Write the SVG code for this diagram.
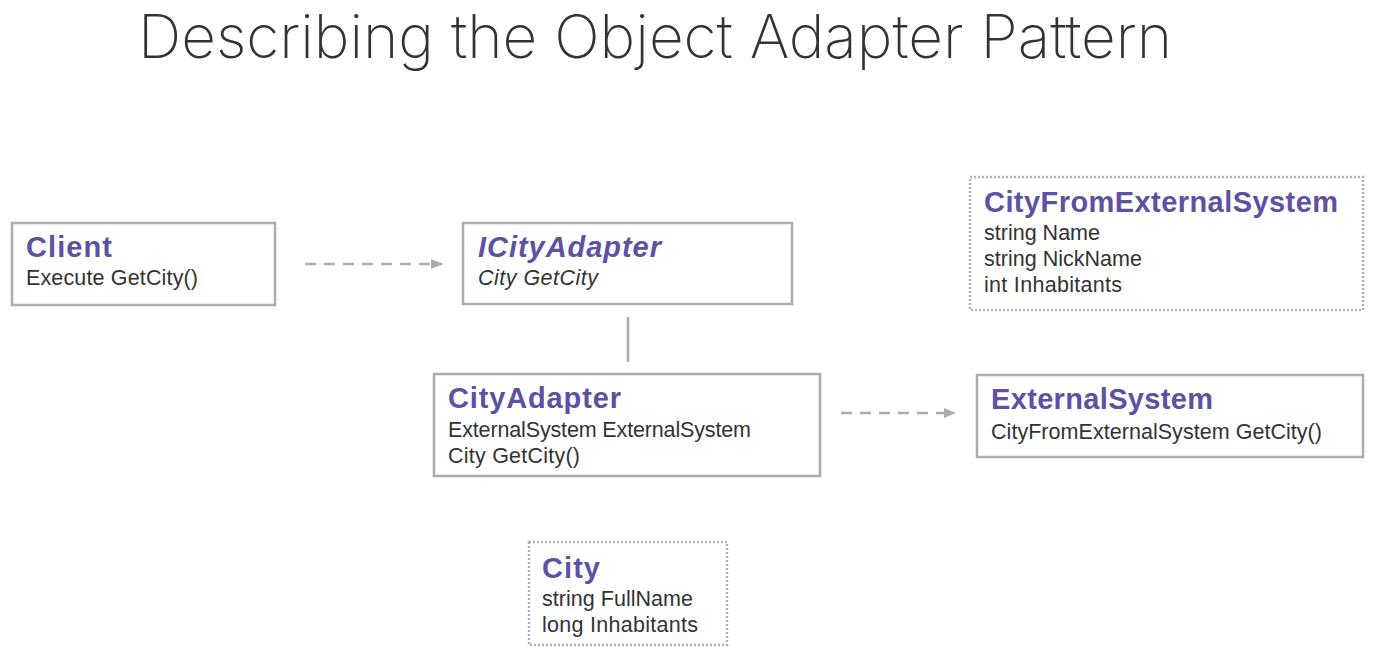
<svg xmlns="http://www.w3.org/2000/svg" width="1375" height="655" viewBox="0 0 1375 655">
<defs>
<style>
.box{fill:#fff;stroke:#acacac;stroke-width:2.5}
.dot{fill:#fff;stroke:#b0b0b0;stroke-width:2.5;stroke-dasharray:2 2}
.hd{font-family:"Liberation Sans",Arial,sans-serif;font-weight:bold;font-size:29px;fill:#5d51a3}
.tx{font-family:"Liberation Sans",Arial,sans-serif;font-size:21.5px;fill:#333}
.it{font-style:italic}
.con{stroke:#acacac;stroke-width:2.5;fill:none}
.dash{stroke-dasharray:11 8}
</style>
<marker id="ah" viewBox="0 0 10 10" refX="9" refY="5" markerWidth="5" markerHeight="5" orient="auto" markerUnits="strokeWidth">
<path d="M0,1 L10,5 L0,9 Z" fill="#acacac"/>
</marker>
</defs>
<rect width="1375" height="655" fill="#fff"/>
<text x="138" y="58" font-family="Inter,'Liberation Sans',sans-serif" font-weight="200" font-size="60" fill="#333" textLength="1034" lengthAdjust="spacingAndGlyphs">Describing the Object Adapter Pattern</text>
<g id="connectors">
<line class="con dash" x1="305" y1="264" x2="442" y2="264" marker-end="url(#ah)"/>
<line class="con" x1="628" y1="317" x2="628" y2="362"/>
<line class="con dash" x1="841" y1="413" x2="955" y2="413" marker-end="url(#ah)"/>
</g>
<g id="client">
<rect class="box" x="12" y="223" width="263" height="82"/>
<text class="hd" x="26" y="257" textLength="86">Client</text>
<text class="tx" x="26" y="285" textLength="172">Execute GetCity()</text>
</g>
<g id="icityadapter">
<rect class="box" x="463" y="223" width="329" height="81"/>
<text class="hd it" x="478" y="257" textLength="183">ICityAdapter</text>
<text class="tx it" x="478" y="285" textLength="120">City GetCity</text>
</g>
<g id="cityadapter">
<rect class="box" x="434" y="374" width="386" height="102"/>
<text class="hd" x="448" y="408" textLength="173">CityAdapter</text>
<text class="tx" x="448" y="437" textLength="303">ExternalSystem ExternalSystem</text>
<text class="tx" x="448" y="463" textLength="132">City GetCity()</text>
</g>
<g id="externalsystem">
<rect class="box" x="977" y="375" width="386" height="82"/>
<text class="hd" x="991" y="409" textLength="222">ExternalSystem</text>
<text class="tx" x="991" y="439" textLength="331">CityFromExternalSystem GetCity()</text>
</g>
<g id="cityfromexternalsystem">
<rect class="dot" x="970" y="177" width="393" height="133"/>
<text class="hd" x="984" y="212" textLength="354">CityFromExternalSystem</text>
<text class="tx" x="984" y="240" textLength="116">string Name</text>
<text class="tx" x="984" y="266" textLength="158">string NickName</text>
<text class="tx" x="984" y="292" textLength="138">int Inhabitants</text>
</g>
<g id="city">
<rect class="dot" x="529" y="542" width="198" height="103"/>
<text class="hd" x="542" y="578" textLength="58">City</text>
<text class="tx" x="542" y="606" textLength="151">string FullName</text>
<text class="tx" x="542" y="632" textLength="156">long Inhabitants</text>
</g>
</svg>
